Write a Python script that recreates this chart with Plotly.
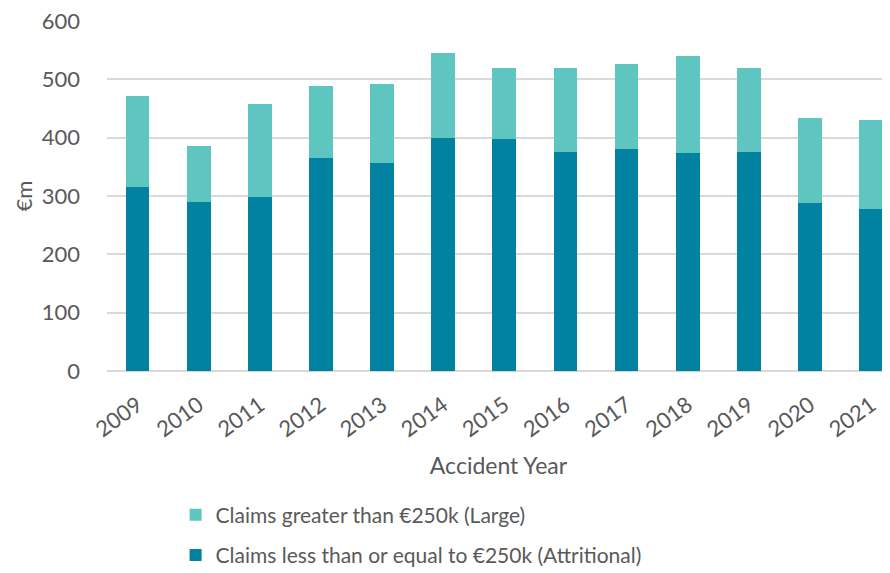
import plotly.graph_objects as go

years = ["2009", "2010", "2011", "2012", "2013", "2014", "2015", "2016", "2017", "2018", "2019", "2020", "2021"]
totals = [471, 386, 458, 489, 492, 546, 519, 519, 526, 540, 519, 434, 431]
attritional = [315, 290, 298, 366, 356, 400, 397, 376, 380, 373, 376, 288, 278]
large = [t - a for t, a in zip(totals, attritional)]

name_large = "Claims greater than €250k (Large)"
name_attr = "Claims less than or equal to €250k (Attritional)"

font_family = "Lato, 'Open Sans', sans-serif"
grey = "#595959"

fig = go.Figure()
fig.add_trace(go.Bar(x=years, y=attritional, name=name_attr, marker_color="#0082A0",
                     marker_line_width=0, width=0.39, legendgroup="a", legendrank=2))
fig.add_trace(go.Bar(x=years, y=large, name=name_large, marker_color="#5FC5C1",
                     marker_line_width=0, width=0.39, legendgroup="b", legendrank=1))

fig.update_layout(
    width=882, height=565,
    barmode="stack",
    plot_bgcolor="white", paper_bgcolor="white",
    margin=dict(l=99, r=0, t=13, b=202, autoexpand=False),
    font=dict(family=font_family, color=grey, size=21),
    xaxis=dict(
        range=[-0.5, 12.31], tickangle=-36, tickfont=dict(size=22, color=grey),
        showgrid=False, showline=False, ticks="", ticklabelstandoff=16,
        title=dict(text="Accident Year", font=dict(size=23, color=grey), standoff=16),
        automargin=False,
    ),
    yaxis=dict(
        range=[0, 600], dtick=100, showgrid=True, gridcolor="#d9d9d9", gridwidth=1.5,
        zeroline=True, zerolinecolor="#d9d9d9", zerolinewidth=1.5,
        tickfont=dict(size=22, color=grey), ticks="", ticklabelstandoff=26,
        ticklabeloverflow="allow",
        title=dict(text="€m", font=dict(size=22, color=grey), standoff=3),
        automargin=False,
    ),
    legend=dict(
        x=0.0876, y=-0.353, xanchor="left", yanchor="top",
        traceorder="grouped", tracegroupgap=10,
        font=dict(size=21, color=grey), itemwidth=30,
    ),
)

fig.write_html("out.html")
